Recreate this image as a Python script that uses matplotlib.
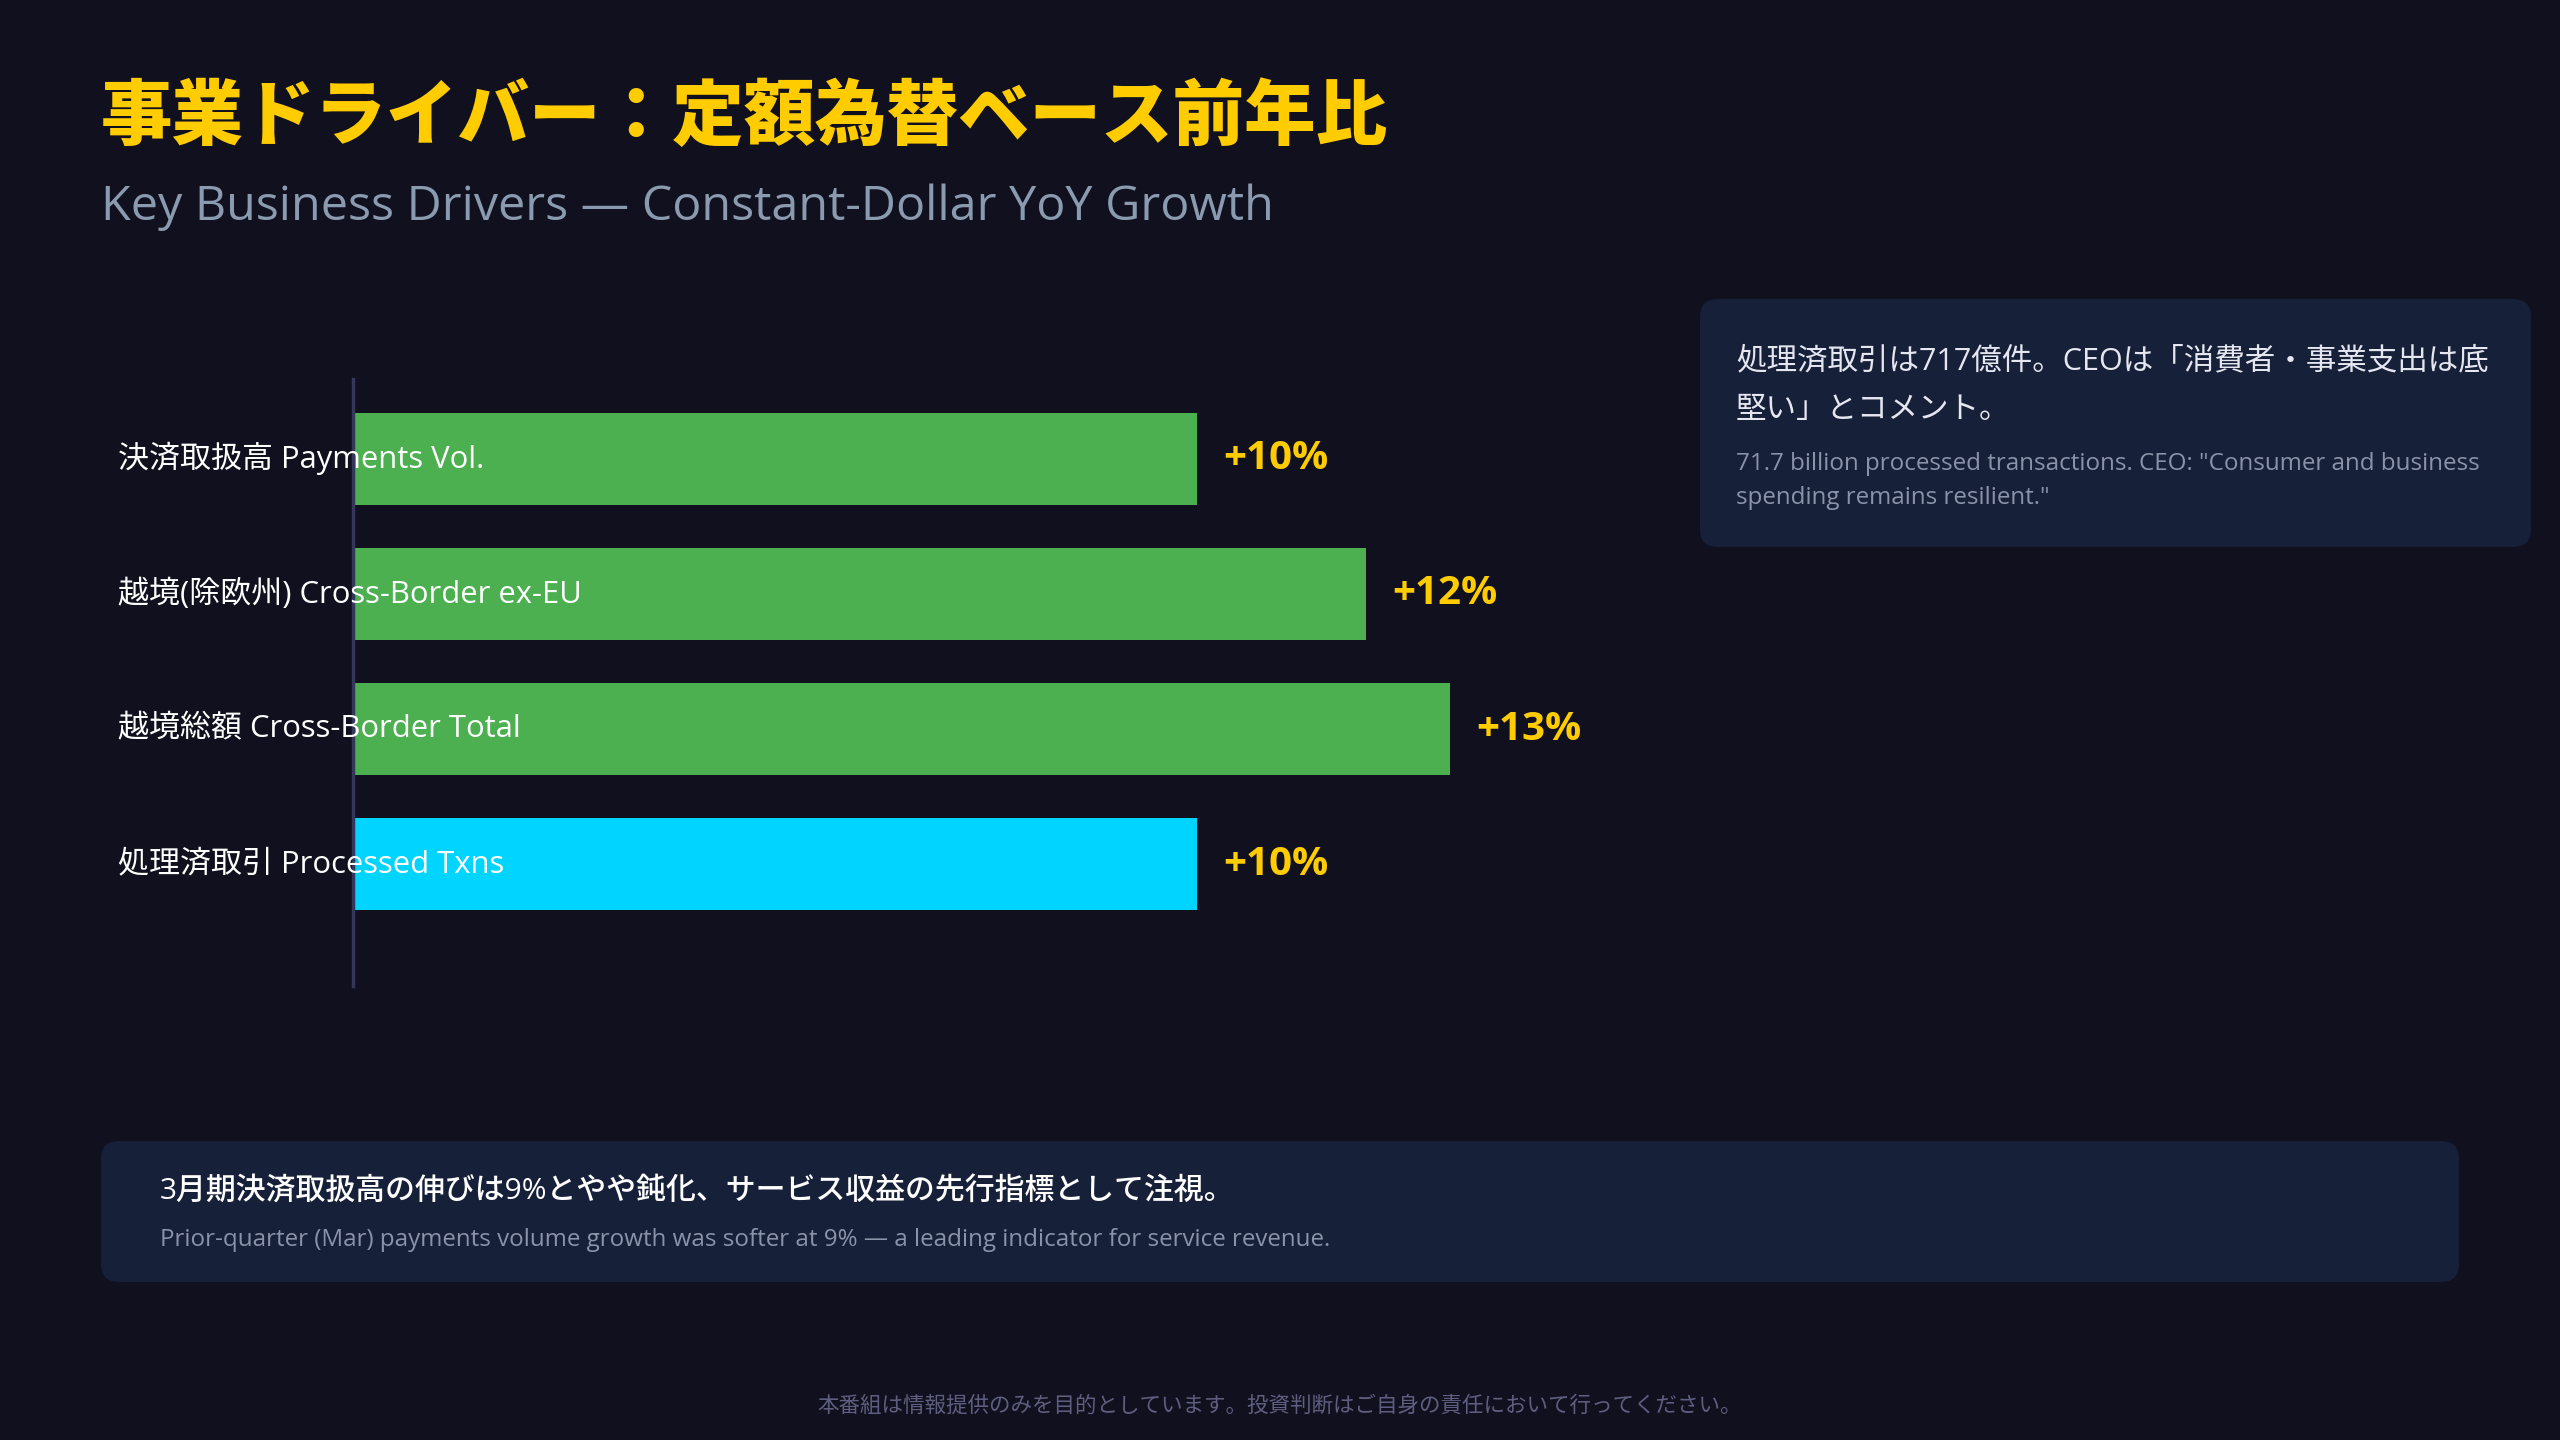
import matplotlib
matplotlib.use("Agg")
import matplotlib.pyplot as plt
from matplotlib.patches import FancyBboxPatch
from matplotlib.transforms import blended_transform_factory

plt.rcParams['font.family'] = ['Open Sans', 'Noto Sans CJK JP', 'DejaVu Sans']

# data
categories = ["決済取扱高 Payments Vol.", "越境(除欧州) Cross-Border ex-EU",
              "越境総額 Cross-Border Total", "処理済取引 Processed Txns"]
growth = [10, 12, 13, 10]
bar_colors = ["#4CAF50", "#4CAF50", "#4CAF50", "#00D4FF"]

title = "事業ドライバー：定額為替ベース前年比"
subtitle = "Key Business Drivers — Constant-Dollar YoY Growth"
note_jp = ["処理済取引は717億件。CEOは「消費者・事業支出は底", "堅い」とコメント。"]
note_en = ["71.7 billion processed transactions. CEO: \"Consumer and business",
           "spending remains resilient.\""]
foot_jp = "3月期決済取扱高の伸びは9%とやや鈍化、サービス収益の先行指標として注視。"
foot_en = "Prior-quarter (Mar) payments volume growth was softer at 9% — a leading indicator for service revenue."
disclaimer = "本番組は情報提供のみを目的としています。投資判断はご自身の責任において行ってください。"

BG = "#10101E"
BOX = "#172039"
W, H = 2560, 1440

fig = plt.figure(figsize=(25.6, 14.4), dpi=100)
fig.patch.set_facecolor(BG)

def fx(px):
    return px / W

def fy(py):
    return 1 - py / H

# titles
fig.text(fx(101), fy(118), title, fontsize=51.5, fontweight='black', color="#FFCC00",
         ha='left', va='center', family=['Noto Sans CJK JP'])
fig.text(fx(101), fy(207), subtitle, fontsize=34.8, color="#8A9BB0",
         ha='left', va='center')

# bar chart axes
ax_left, ax_right = 353, 1700
ax_top, ax_bot = 379, 986
ax = fig.add_axes([fx(ax_left), fy(ax_bot), fx(ax_right - ax_left), (ax_bot - ax_top) / H])
ax.set_facecolor('none')
ypos = list(range(len(categories)))
ax.barh(ypos, growth, height=0.68, color=bar_colors, zorder=2)
ax.set_ylim(3.9, -0.59)
ax.set_xlim(0, (ax_right - ax_left) / 84.4)
for s in ['top', 'right', 'bottom']:
    ax.spines[s].set_visible(False)
ax.spines['left'].set_color("#34365A")
ax.spines['left'].set_linewidth(2.5)
ax.set_xticks([])
ax.set_yticks([])

trans = blended_transform_factory(fig.transFigure, ax.transData)
for y, lab, v in zip(ypos, categories, growth):
    ax.text(fx(118), y, lab, transform=trans, fontsize=22.3, color="white",
            ha='left', va='center', zorder=5)
    ax.annotate(f"+{v}%", (v, y), xytext=(26, 0), textcoords='offset pixels',
                fontsize=29, fontweight='bold', color="#FFCC00",
                ha='left', va='center', zorder=5)

# rounded note boxes
def box(x0, y0, x1, y1):
    p = FancyBboxPatch((fx(x0), fy(y1)), fx(x1 - x0), (y1 - y0) / H,
                       boxstyle="round,pad=0,rounding_size=0.007",
                       transform=fig.transFigure, facecolor=BOX, edgecolor='none',
                       mutation_aspect=W / H, zorder=0)
    fig.patches.append(p)

box(1700, 299, 2531, 547)
for i, line in enumerate(note_jp):
    fig.text(fx(1736), fy(361 + i * 49), line, fontsize=22, color="#E4E6F0",
             ha='left', va='center')
for i, line in enumerate(note_en):
    fig.text(fx(1736), fy(464 + i * 34), line, fontsize=17.4, color="#8A93A8",
             ha='left', va='center')

box(101, 1141, 2459, 1282)
fig.text(fx(160), fy(1191), foot_jp, fontsize=21.5, fontweight='medium', color="white",
         ha='left', va='center')
fig.text(fx(160), fy(1240), foot_en, fontsize=17.4, color="#8A93A8",
         ha='left', va='center')

fig.text(0.5, fy(1406), disclaimer, fontsize=15.5, color="#5E5E80",
         ha='center', va='center')

fig.savefig("out.png", dpi=100, facecolor=BG)
